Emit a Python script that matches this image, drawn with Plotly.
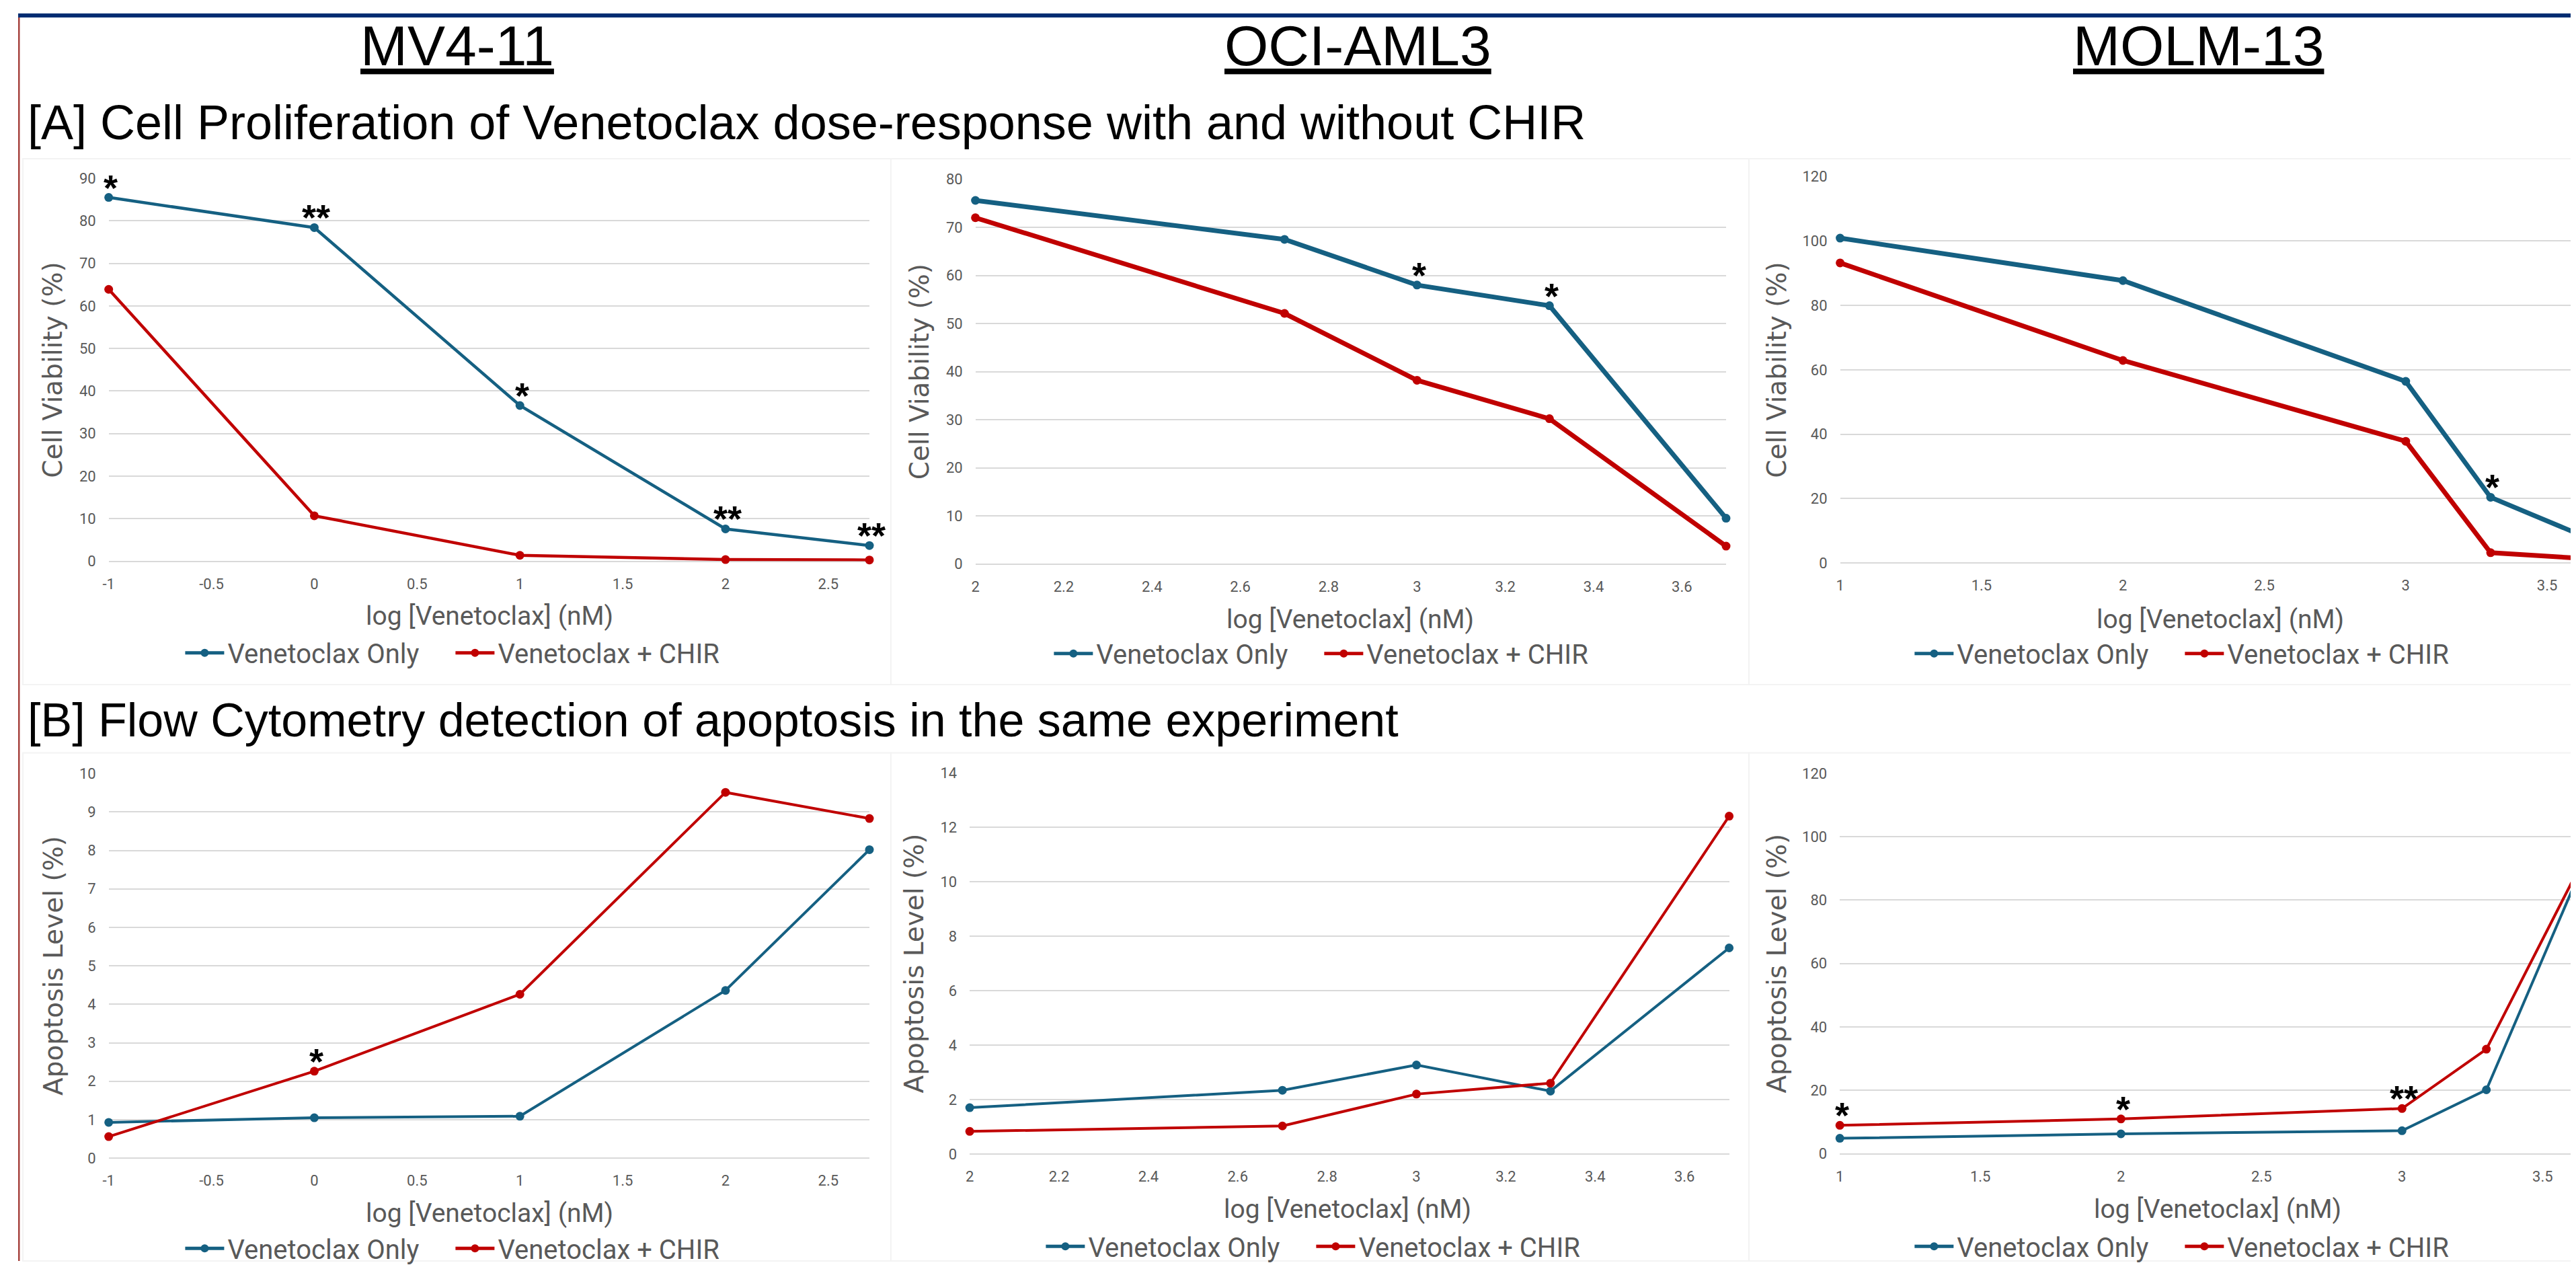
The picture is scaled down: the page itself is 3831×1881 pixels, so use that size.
import plotly.graph_objects as go

# ---------------- data ----------------
x_mv = [-1, 0, 1, 2, 2.7]
x_oci = [2, 2.7, 3, 3.3, 3.7]
x_molm = [1, 2, 3, 3.3, 3.7]

via_mv_only = [85.5, 78.4, 36.6, 7.6, 3.7]
via_mv_chir = [63.9, 10.7, 1.4, 0.4, 0.3]
via_oci_only = [75.6, 67.5, 58.0, 53.7, 9.5]
via_oci_chir = [72.0, 52.1, 38.2, 30.2, 3.7]
via_molm_only = [100.9, 87.7, 56.4, 20.4, 5.7]
via_molm_chir = [93.2, 62.9, 37.8, 3.2, 1.0]

apo_mv_only = [0.93, 1.05, 1.09, 4.36, 8.02]
apo_mv_chir = [0.56, 2.26, 4.26, 9.51, 8.83]
apo_oci_only = [1.70, 2.34, 3.27, 2.31, 7.57]
apo_oci_chir = [0.83, 1.03, 2.20, 2.60, 12.41]
apo_molm_only = [4.9, 6.3, 7.3, 20.2, 102.8]
apo_molm_chir = [9.0, 11.0, 14.3, 33.0, 102.3]

# significance marks
sig_via_mv_only = ["*", "**", "*", "**", "**"]
sig_via_oci_only = ["", "", "*", "*", ""]
sig_via_molm_only = ["", "", "", "*", ""]
sig_apo_mv_chir = ["", "*", "", "", ""]
sig_apo_molm_chir = ["*", "*", "**", "", ""]
no_sig = ["", "", "", "", ""]

mv_ticks = [-1, -0.5, 0, 0.5, 1, 1.5, 2, 2.5]
mv_ticktext = ["-1", "-0.5", "0", "0.5", "1", "1.5", "2", "2.5"]
oci_ticks = [2, 2.2, 2.4, 2.6, 2.8, 3, 3.2, 3.4, 3.6]
oci_ticktext = ["2", "2.2", "2.4", "2.6", "2.8", "3", "3.2", "3.4", "3.6"]
molm_ticks = [1, 1.5, 2, 2.5, 3, 3.5]
molm_ticktext = ["1", "1.5", "2", "2.5", "3", "3.5"]

cell_lines = ["MV4-11", "OCI-AML3", "MOLM-13"]
series_names = ["Venetoclax Only", "Venetoclax + CHIR"]
row_titles = ["[A] Cell Proliferation of Venetoclax dose-response with and without CHIR",
              "[B] Flow Cytometry detection of apoptosis in the same experiment"]
x_title = "log [Venetoclax] (nM)"
y_titles = ["Cell Viability (%)", "Apoptosis Level (%)"]

# ---------------- style / layout ----------------
W, H = 3831, 1881
def fx(p): return p / W
def fy(p): return 1 - p / H

BLUE = '#156082'
RED = '#C00000'
GRID = '#D9D9D9'
GRAY = '#595959'
NARROW = 'Roboto, sans-serif'
TICKF = 'Roboto, Noto Sans, sans-serif'
YTF = 'DejaVu Sans, sans-serif'
HEADF = 'Liberation Sans, Arial, sans-serif'

panels = [
    dict(x=x_mv, only=via_mv_only, chir=via_mv_chir, s_only=sig_via_mv_only, s_chir=no_sig,
         xdom=(145, 1279), ydom=(248.5, 826), xr=(-1, 2.7), yr=(0, 90), dt=10,
         tv=mv_ticks, tt=mv_ticktext, lw=4.5, yt=y_titles[0], ytx=62, xtp=(713, 909), leg=(254, 964)),
    dict(x=x_oci, only=via_oci_only, chir=via_oci_chir, s_only=sig_via_oci_only, s_chir=no_sig,
         xdom=(1437, 2556), ydom=(250, 830), xr=(2, 3.7), yr=(0, 80), dt=10,
         tv=oci_ticks, tt=oci_ticktext, lw=7, yt=y_titles[0], ytx=1354, xtp=(1996, 914), leg=(1549, 965)),
    dict(x=x_molm, only=via_molm_only, chir=via_molm_chir, s_only=sig_via_molm_only, s_chir=no_sig,
         xdom=(2726, 3831), ydom=(246, 828.6), xr=(1, 3.621), yr=(0, 120), dt=20,
         tv=molm_ticks, tt=molm_ticktext, lw=7, yt=y_titles[0], ytx=2632, xtp=(3293, 914), leg=(2832, 965)),
    dict(x=x_mv, only=apo_mv_only, chir=apo_mv_chir, s_only=no_sig, s_chir=sig_apo_mv_chir,
         xdom=(145, 1279), ydom=(1146, 1726), xr=(-1, 2.7), yr=(0, 10), dt=1,
         tv=mv_ticks, tt=mv_ticktext, lw=4, yt=y_titles[1], ytx=62, xtp=(713, 1809), leg=(254, 1862)),
    dict(x=x_oci, only=apo_oci_only, chir=apo_oci_chir, s_only=no_sig, s_chir=no_sig,
         xdom=(1428.5, 2560.6), ydom=(1145, 1719.7), xr=(2, 3.7), yr=(0, 14), dt=2,
         tv=oci_ticks, tt=oci_ticktext, lw=4, yt=y_titles[1], ytx=1346, xtp=(1992, 1803), leg=(1537, 1859)),
    dict(x=x_molm, only=apo_molm_only, chir=apo_molm_chir, s_only=no_sig, s_chir=sig_apo_molm_chir,
         xdom=(2725.6, 3831), ydom=(1145.7, 1719.5), xr=(1, 3.638), yr=(0, 120), dt=20,
         tv=molm_ticks, tt=molm_ticktext, lw=4, yt=y_titles[1], ytx=2632, xtp=(3289, 1803), leg=(2832, 1859)),
]

fig = go.Figure()
annotations = []
layout = {}

for i, p in enumerate(panels, start=1):
    sfx = '' if i == 1 else str(i)
    legname = 'legend' if i == 1 else f'legend{i}'
    for vals, sig, color, name in ((p['only'], p['s_only'], BLUE, series_names[0]),
                                    (p['chir'], p['s_chir'], RED, series_names[1])):
        fig.add_trace(go.Scatter(
            x=p['x'], y=vals, mode='lines+markers', name=name,
            line=dict(color=color, width=p['lw']),
            marker=dict(color=color, size=13),
            xaxis=f'x{sfx}', yaxis=f'y{sfx}', legend=legname, cliponaxis=False,
            showlegend=True))
        for xv, yv, s in zip(p['x'], vals, sig):
            if s:
                annotations.append(dict(
                    x=xv, y=yv, xref=f'x{sfx}', yref=f'y{sfx}', text=f'<b>{s}</b>', showarrow=False,
                    xanchor='center', yanchor='middle', yshift=15, xshift=3,
                    font=dict(family=HEADF, size=54, color='black')))
    layout[f'xaxis{sfx}'] = dict(
        domain=[fx(p['xdom'][0]), fx(p['xdom'][1])], range=list(p['xr']),
        anchor=f'y{sfx}', showgrid=False, zeroline=False, showline=False, ticks='',
        tickvals=p['tv'], ticktext=p['tt'], ticklabelstandoff=18,
        tickfont=dict(family=TICKF, size=22, color=GRAY))
    layout[f'yaxis{sfx}'] = dict(
        domain=[fy(p['ydom'][1]), fy(p['ydom'][0])], range=list(p['yr']), dtick=p['dt'],
        anchor=f'x{sfx}', showgrid=True, gridcolor=GRID, gridwidth=2,
        zeroline=True, zerolinecolor=GRID, zerolinewidth=2, showline=False, ticks='',
        ticklabelstandoff=18, tickfont=dict(family=TICKF, size=22, color=GRAY))
    layout[legname] = dict(
        orientation='h', x=fx(p['leg'][0]), y=fy(p['leg'][1]), xanchor='left', yanchor='middle',
        xref='paper', yref='paper', bgcolor='rgba(0,0,0,0)', itemwidth=58,
        entrywidth=329, entrywidthmode='pixels',
        font=dict(family=NARROW, size=40, color=GRAY), itemsizing='constant')
    annotations.append(dict(
        x=fx(p['ytx']), y=fy((p['ydom'][0] + p['ydom'][1]) / 2), xref='paper', yref='paper',
        text=p['yt'], textangle=-90, showarrow=False, xanchor='center', yanchor='middle',
        font=dict(family=YTF, size=39, color=GRAY)))
    annotations.append(dict(
        x=fx(p['xtp'][0]), y=fy(p['xtp'][1]), xref='paper', yref='paper',
        text=x_title, showarrow=False, xanchor='center', yanchor='middle',
        font=dict(family=NARROW, size=39, color=GRAY)))

# headings
for name, cx in zip(cell_lines, (665, 2007, 3260)):
    annotations.append(dict(
        x=fx(cx), y=fy(49), xref='paper', yref='paper', text=f'<u>{name}</u>',
        showarrow=False, xanchor='center', yanchor='middle',
        font=dict(family=HEADF, size=84, color='black')))
for t, cy, fs in zip(row_titles, (164, 1066), (72, 70)):
    annotations.append(dict(
        x=fx(22), y=fy(cy), xref='paper', yref='paper', text=t,
        showarrow=False, xanchor='left', yanchor='middle',
        font=dict(family=HEADF, size=fs, color='black')))

shapes = [
    dict(type='rect', xref='paper', yref='paper', x0=fx(10), x1=1, y0=fy(6), y1=1,
         fillcolor='#002D72', line=dict(width=0), layer='above'),
    dict(type='rect', xref='paper', yref='paper', x0=fx(10), x1=fx(12.5), y0=0, y1=fy(6),
         fillcolor='#A5413D', line=dict(width=0), layer='above'),
]
for (x0, x1) in ((17, 1311), (1311, 2590), (2590, 3831)):
    for (y0, y1) in ((219, 1012), (1115, 1881)):
        shapes.append(dict(type='rect', xref='paper', yref='paper', x0=fx(x0), x1=fx(x1),
                           y0=fy(y1), y1=fy(y0), line=dict(color='#F3F3F3', width=2),
                           fillcolor='rgba(0,0,0,0)', layer='below'))

fig.update_layout(
    width=W, height=H, margin=dict(l=0, r=0, t=0, b=0),
    paper_bgcolor='white', plot_bgcolor='white',
    annotations=annotations, shapes=shapes, **layout)

fig.write_html('out.html')
